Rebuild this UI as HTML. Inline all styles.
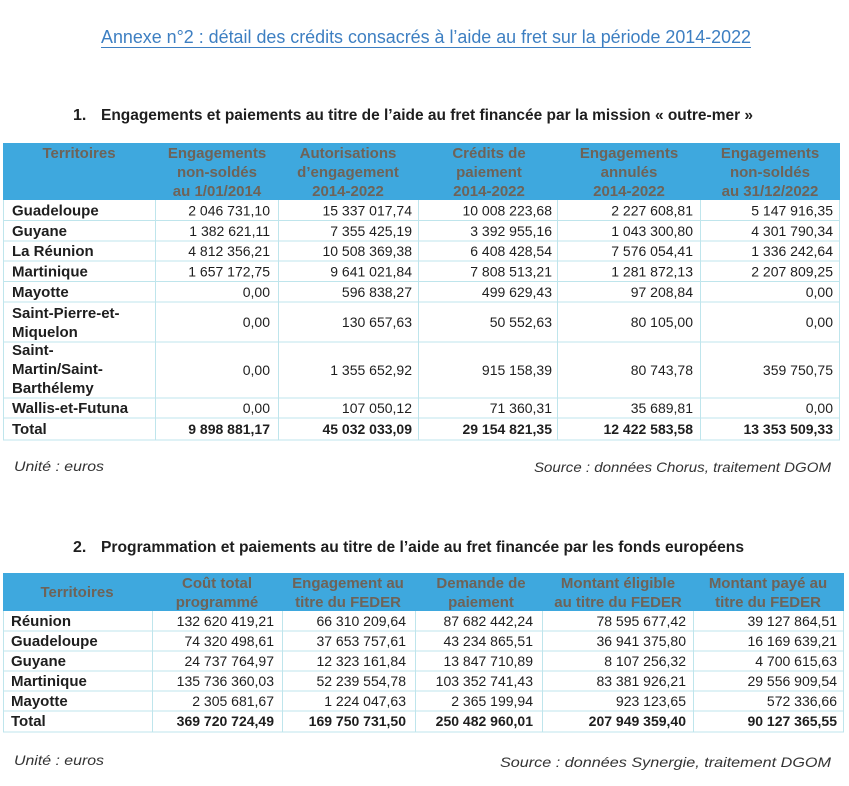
<!DOCTYPE html>
<html><head><meta charset="utf-8"><style>
html,body{margin:0;padding:0;background:#fff;}
svg{display:block;}
.t{font-family:"Liberation Sans",sans-serif;}
.n{font-size:14px;fill:#1e1e1e;text-anchor:end;}
.nb{font-size:14px;fill:#1e1e1e;text-anchor:end;font-weight:bold;}
.nm{font-size:15px;fill:#1e1e1e;font-weight:bold;}
.h{font-size:15px;fill:#6e6358;font-weight:bold;text-anchor:middle;}
.g{stroke:#bfe5ec;stroke-width:1;}
.note{font-size:14px;fill:#333;font-style:italic;}
.hd{font-size:16px;fill:#1e1e1e;font-weight:bold;}
</style></head><body>
<svg width="849" height="786" viewBox="0 0 849 786" xmlns="http://www.w3.org/2000/svg" class="t">
<!-- Title -->
<text x="101" y="43" font-size="18" fill="#3d7fc2" textLength="650" lengthAdjust="spacingAndGlyphs">Annexe n°2 : détail des crédits consacrés à l’aide au fret sur la période 2014-2022</text>
<line x1="101" y1="47.5" x2="751" y2="47.5" stroke="#3d7fc2" stroke-width="1"/>

<!-- Heading 1 -->
<text x="73" y="120" class="hd">1.</text>
<text x="101" y="120" class="hd" textLength="652" lengthAdjust="spacingAndGlyphs">Engagements et paiements au titre de l’aide au fret financée par la mission « outre-mer »</text>

<!-- Table 1 -->
<rect x="3" y="143" width="837" height="57" fill="#3ea8de"/>
<rect x="3" y="200" width="837" height="240" fill="#fff"/>
<g class="g">
<line x1="3" y1="220.5" x2="840" y2="220.5"/>
<line x1="3" y1="241" x2="840" y2="241"/>
<line x1="3" y1="261" x2="840" y2="261"/>
<line x1="3" y1="281.5" x2="840" y2="281.5"/>
<line x1="3" y1="302" x2="840" y2="302"/>
<line x1="3" y1="342" x2="840" y2="342"/>
<line x1="3" y1="398" x2="840" y2="398"/>
<line x1="3" y1="418" x2="840" y2="418"/>
<line x1="3" y1="440" x2="840" y2="440"/>
<line x1="3.5" y1="200" x2="3.5" y2="440"/>
<line x1="155.5" y1="200" x2="155.5" y2="440"/>
<line x1="278.5" y1="200" x2="278.5" y2="440"/>
<line x1="418.5" y1="200" x2="418.5" y2="440"/>
<line x1="557.5" y1="200" x2="557.5" y2="440"/>
<line x1="700.5" y1="200" x2="700.5" y2="440"/>
<line x1="839.5" y1="200" x2="839.5" y2="440"/>
</g>
<g class="h">
<text x="79" y="158">Territoires</text>
<text x="217" y="158">Engagements</text>
<text x="217" y="177">non-soldés</text>
<text x="217" y="196">au 1/01/2014</text>
<text x="348" y="158">Autorisations</text>
<text x="348" y="177">d’engagement</text>
<text x="348" y="196">2014-2022</text>
<text x="489" y="158">Crédits de</text>
<text x="489" y="177">paiement</text>
<text x="489" y="196">2014-2022</text>
<text x="629" y="158">Engagements</text>
<text x="629" y="177">annulés</text>
<text x="629" y="196">2014-2022</text>
<text x="770" y="158">Engagements</text>
<text x="770" y="177">non-soldés</text>
<text x="770" y="196">au 31/12/2022</text>
</g>
<g class="nm">
<text x="12" y="215.5">Guadeloupe</text>
<text x="12" y="236">Guyane</text>
<text x="12" y="256">La Réunion</text>
<text x="12" y="276.5">Martinique</text>
<text x="12" y="297">Mayotte</text>
<text x="12" y="318">Saint-Pierre-et-</text>
<text x="12" y="337">Miquelon</text>
<text x="12" y="355">Saint-</text>
<text x="12" y="374">Martin/Saint-</text>
<text x="12" y="393">Barthélemy</text>
<text x="12" y="413">Wallis-et-Futuna</text>
<text x="12" y="434">Total</text>
</g>
<g class="n">
<text x="270" y="215.5">2 046 731,10</text><text x="412" y="215.5">15 337 017,74</text><text x="552" y="215.5">10 008 223,68</text><text x="693" y="215.5">2 227 608,81</text><text x="833" y="215.5">5 147 916,35</text>
<text x="270" y="236">1 382 621,11</text><text x="412" y="236">7 355 425,19</text><text x="552" y="236">3 392 955,16</text><text x="693" y="236">1 043 300,80</text><text x="833" y="236">4 301 790,34</text>
<text x="270" y="256">4 812 356,21</text><text x="412" y="256">10 508 369,38</text><text x="552" y="256">6 408 428,54</text><text x="693" y="256">7 576 054,41</text><text x="833" y="256">1 336 242,64</text>
<text x="270" y="276.5">1 657 172,75</text><text x="412" y="276.5">9 641 021,84</text><text x="552" y="276.5">7 808 513,21</text><text x="693" y="276.5">1 281 872,13</text><text x="833" y="276.5">2 207 809,25</text>
<text x="270" y="297">0,00</text><text x="412" y="297">596 838,27</text><text x="552" y="297">499 629,43</text><text x="693" y="297">97 208,84</text><text x="833" y="297">0,00</text>
<text x="270" y="327">0,00</text><text x="412" y="327">130 657,63</text><text x="552" y="327">50 552,63</text><text x="693" y="327">80 105,00</text><text x="833" y="327">0,00</text>
<text x="270" y="375">0,00</text><text x="412" y="375">1 355 652,92</text><text x="552" y="375">915 158,39</text><text x="693" y="375">80 743,78</text><text x="833" y="375">359 750,75</text>
<text x="270" y="413">0,00</text><text x="412" y="413">107 050,12</text><text x="552" y="413">71 360,31</text><text x="693" y="413">35 689,81</text><text x="833" y="413">0,00</text>
</g>
<g class="nb">
<text x="270" y="434">9 898 881,17</text><text x="412" y="434">45 032 033,09</text><text x="552" y="434">29 154 821,35</text><text x="693" y="434">12 422 583,58</text><text x="833" y="434">13 353 509,33</text>
</g>

<text x="14" y="471" class="note" textLength="90" lengthAdjust="spacingAndGlyphs">Unité : euros</text>
<text x="534" y="472" class="note" textLength="297" lengthAdjust="spacingAndGlyphs">Source : données Chorus, traitement DGOM</text>

<!-- Heading 2 -->
<text x="73" y="552" class="hd">2.</text>
<text x="101" y="552" class="hd" textLength="643" lengthAdjust="spacingAndGlyphs">Programmation et paiements au titre de l’aide au fret financée par les fonds européens</text>

<!-- Table 2 -->
<rect x="3" y="573" width="841" height="38" fill="#3ea8de"/>
<rect x="3" y="611" width="841" height="121" fill="#fff"/>
<g class="g">
<line x1="3" y1="631" x2="844" y2="631"/>
<line x1="3" y1="651" x2="844" y2="651"/>
<line x1="3" y1="671" x2="844" y2="671"/>
<line x1="3" y1="691" x2="844" y2="691"/>
<line x1="3" y1="711" x2="844" y2="711"/>
<line x1="3" y1="732" x2="844" y2="732"/>
<line x1="3.5" y1="611" x2="3.5" y2="732"/>
<line x1="152.5" y1="611" x2="152.5" y2="732"/>
<line x1="282.5" y1="611" x2="282.5" y2="732"/>
<line x1="415.5" y1="611" x2="415.5" y2="732"/>
<line x1="542.5" y1="611" x2="542.5" y2="732"/>
<line x1="693.5" y1="611" x2="693.5" y2="732"/>
<line x1="843.5" y1="611" x2="843.5" y2="732"/>
</g>
<g class="h">
<text x="77" y="597">Territoires</text>
<text x="217" y="588">Coût total</text>
<text x="217" y="607">programmé</text>
<text x="348" y="588">Engagement au</text>
<text x="348" y="607">titre du FEDER</text>
<text x="481" y="588">Demande de</text>
<text x="481" y="607">paiement</text>
<text x="618" y="588">Montant éligible</text>
<text x="618" y="607">au titre du FEDER</text>
<text x="768" y="588">Montant payé au</text>
<text x="768" y="607">titre du FEDER</text>
</g>
<g class="nm">
<text x="11" y="626">Réunion</text>
<text x="11" y="646">Guadeloupe</text>
<text x="11" y="666">Guyane</text>
<text x="11" y="686">Martinique</text>
<text x="11" y="706">Mayotte</text>
<text x="11" y="726">Total</text>
</g>
<g class="n">
<text x="274" y="626">132 620 419,21</text><text x="406" y="626">66 310 209,64</text><text x="533" y="626">87 682 442,24</text><text x="686" y="626">78 595 677,42</text><text x="837" y="626">39 127 864,51</text>
<text x="274" y="646">74 320 498,61</text><text x="406" y="646">37 653 757,61</text><text x="533" y="646">43 234 865,51</text><text x="686" y="646">36 941 375,80</text><text x="837" y="646">16 169 639,21</text>
<text x="274" y="666">24 737 764,97</text><text x="406" y="666">12 323 161,84</text><text x="533" y="666">13 847 710,89</text><text x="686" y="666">8 107 256,32</text><text x="837" y="666">4 700 615,63</text>
<text x="274" y="686">135 736 360,03</text><text x="406" y="686">52 239 554,78</text><text x="533" y="686">103 352 741,43</text><text x="686" y="686">83 381 926,21</text><text x="837" y="686">29 556 909,54</text>
<text x="274" y="706">2 305 681,67</text><text x="406" y="706">1 224 047,63</text><text x="533" y="706">2 365 199,94</text><text x="686" y="706">923 123,65</text><text x="837" y="706">572 336,66</text>
</g>
<g class="nb">
<text x="274" y="726">369 720 724,49</text><text x="406" y="726">169 750 731,50</text><text x="533" y="726">250 482 960,01</text><text x="686" y="726">207 949 359,40</text><text x="837" y="726">90 127 365,55</text>
</g>

<text x="14" y="765" class="note" textLength="90" lengthAdjust="spacingAndGlyphs">Unité : euros</text>
<text x="500" y="767" class="note" textLength="331" lengthAdjust="spacingAndGlyphs">Source : données Synergie, traitement DGOM</text>
</svg>
</body></html>
